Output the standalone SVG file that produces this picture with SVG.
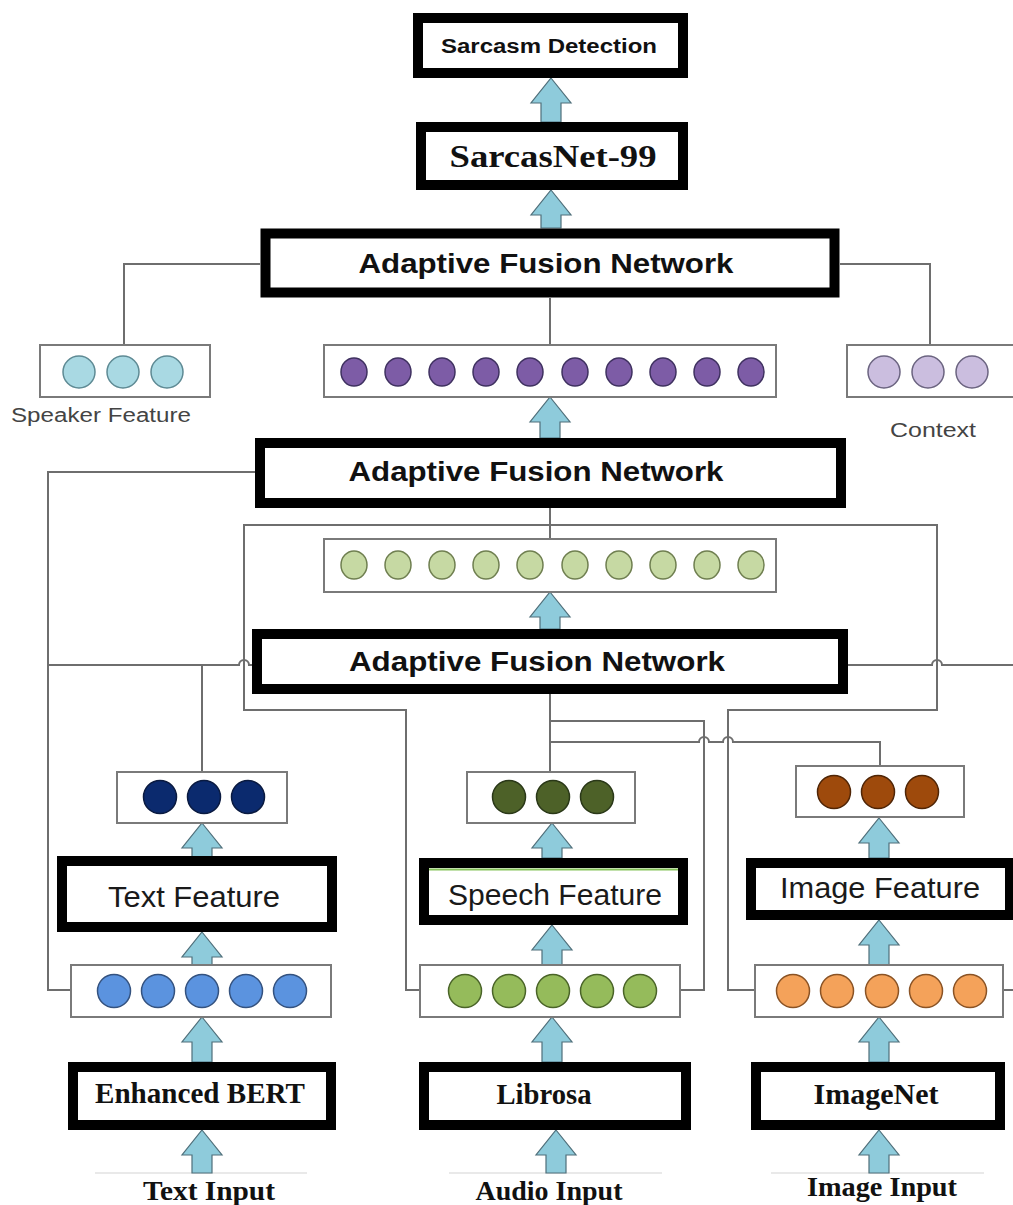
<svg xmlns="http://www.w3.org/2000/svg" width="1013" height="1205" viewBox="0 0 1013 1205">
<style>
.blk{fill:#fff;stroke:#000;stroke-width:10}
.vec{fill:#fff;stroke:#7a7a7a;stroke-width:2}
.ln{fill:none;stroke:#6e6e6e;stroke-width:2}
.arr{fill:#8ecbdb;stroke:#4f6f7a;stroke-width:1.2}
.sb{font-family:"Liberation Sans",Arial,sans-serif;font-weight:bold;fill:#111}
.sr{font-family:"Liberation Sans",Arial,sans-serif;fill:#1a1a1a}
.tb{font-family:"Liberation Serif","Times New Roman",serif;font-weight:bold;fill:#111}
.lab{font-family:"Liberation Sans",Arial,sans-serif;fill:#444}
.spk{fill:#a9d9e3;stroke:#5e8a94;stroke-width:1.5}
.pur{fill:#7d5ca6;stroke:#3f3160;stroke-width:1.5}
.ctx{fill:#cbbedf;stroke:#6b6480;stroke-width:1.5}
.lgr{fill:#c6d9a3;stroke:#6f7f50;stroke-width:1.5}
.nav{fill:#0b2a6e;stroke:#0a1a40;stroke-width:1.5}
.olv{fill:#4d6128;stroke:#2a3818;stroke-width:1.5}
.brn{fill:#9e4a0c;stroke:#4f2506;stroke-width:1.5}
.blu{fill:#5b93df;stroke:#34527f;stroke-width:1.5}
.grn{fill:#95bb5b;stroke:#4a6428;stroke-width:1.5}
.org{fill:#f4a25a;stroke:#8a5325;stroke-width:1.5}
.base{stroke:#e2e2e2;stroke-width:1.5}
</style>
<rect width="1013" height="1205" fill="#fff"/>

<g id="connectors">
  <path class="ln" d="M260,264 H124 V345"/>
  <path class="ln" d="M840,264 H930 V345"/>
  <path class="ln" d="M550,298 V345"/>
  <path class="ln" d="M255,472 H48 V990 H71"/>
  <path class="ln" d="M550,508 V539"/>
  <path class="ln" d="M420,990 H406 V710 H244 V525 H937 V710 H728 V990 H755"/>
  <path class="ln" d="M48,665 H239 A5,5 0 0 1 249,665 H252"/>
  <path class="ln" d="M202,665 V772"/>
  <path class="ln" d="M848,665 H932 A5,5 0 0 1 942,665 H1013"/>
  <path class="ln" d="M550,694 V772"/>
  <path class="ln" d="M550,721 H704 V990 H680"/>
  <path class="ln" d="M550,742 H699 A5,5 0 0 1 709,742 H723 A5,5 0 0 1 733,742 H880 V766"/>
  <path class="ln" d="M1003,990 H1013"/>
  <line class="base" x1="95" y1="1173" x2="307" y2="1173"/>
  <line class="base" x1="449" y1="1173" x2="662" y2="1173"/>
  <line class="base" x1="771" y1="1173" x2="984" y2="1173"/>
  <path class="arr" d="M551,78 L571,103 H561 V122 H541 V103 H531 Z"/>
  <path class="arr" d="M551,190 L571,215 H561 V228 H541 V215 H531 Z"/>
  <path class="arr" d="M550,397 L570,422 H560 V438 H540 V422 H530 Z"/>
  <path class="arr" d="M550,592 L570,617 H560 V629 H540 V617 H530 Z"/>
  <path class="arr" d="M202,823 L222,848 H212 V857 H192 V848 H182 Z"/>
  <path class="arr" d="M202,932 L222,957 H212 V965 H192 V957 H182 Z"/>
  <path class="arr" d="M202,1017 L222,1042 H212 V1062 H192 V1042 H182 Z"/>
  <path class="arr" d="M202,1130 L222,1155 H212 V1173 H192 V1155 H182 Z"/>
  <path class="arr" d="M552,823 L572,848 H562 V858 H542 V848 H532 Z"/>
  <path class="arr" d="M552,925 L572,950 H562 V965 H542 V950 H532 Z"/>
  <path class="arr" d="M552,1017 L572,1042 H562 V1062 H542 V1042 H532 Z"/>
  <path class="arr" d="M556,1130 L576,1155 H566 V1173 H546 V1155 H536 Z"/>
  <path class="arr" d="M879,818 L899,843 H889 V858 H869 V843 H859 Z"/>
  <path class="arr" d="M879,920 L899,945 H889 V965 H869 V945 H859 Z"/>
  <path class="arr" d="M879,1017 L899,1042 H889 V1062 H869 V1042 H859 Z"/>
  <path class="arr" d="M879,1130 L899,1155 H889 V1173 H869 V1155 H859 Z"/>
</g>

<g id="sarcasm-detection">
  <rect class="blk" x="418" y="18" width="265" height="55"/>
  <text class="sb" x="549" y="53" font-size="20" text-anchor="middle" textLength="216" lengthAdjust="spacingAndGlyphs">Sarcasm Detection</text>
</g>
<g id="sarcasnet">
  <rect class="blk" x="421" y="127" width="262" height="58"/>
  <text class="tb" x="553" y="167" font-size="31" text-anchor="middle" textLength="207" lengthAdjust="spacingAndGlyphs">SarcasNet-99</text>
</g>
<g id="afn-1">
  <rect class="blk" x="265.5" y="233.5" width="569" height="59" stroke-width="11"/>
  <text class="sb" x="546" y="273" font-size="28" text-anchor="middle" textLength="375" lengthAdjust="spacingAndGlyphs">Adaptive Fusion Network</text>
</g>
<g id="speaker-feature">
  <rect class="vec" x="40" y="345" width="170" height="52"/>
  <circle class="spk" cx="79" cy="372" r="16"/>
  <circle class="spk" cx="123" cy="372" r="16"/>
  <circle class="spk" cx="167" cy="372" r="16"/>
  <text class="lab" x="101" y="422" font-size="20" text-anchor="middle" textLength="180" lengthAdjust="spacingAndGlyphs">Speaker Feature</text>
</g>
<g id="fused-vector-top">
  <rect class="vec" x="324" y="345" width="452" height="52"/>
  <ellipse class="pur" cx="354" cy="372" rx="13" ry="14"/>
  <ellipse class="pur" cx="398" cy="372" rx="13" ry="14"/>
  <ellipse class="pur" cx="442" cy="372" rx="13" ry="14"/>
  <ellipse class="pur" cx="486" cy="372" rx="13" ry="14"/>
  <ellipse class="pur" cx="530" cy="372" rx="13" ry="14"/>
  <ellipse class="pur" cx="575" cy="372" rx="13" ry="14"/>
  <ellipse class="pur" cx="619" cy="372" rx="13" ry="14"/>
  <ellipse class="pur" cx="663" cy="372" rx="13" ry="14"/>
  <ellipse class="pur" cx="707" cy="372" rx="13" ry="14"/>
  <ellipse class="pur" cx="751" cy="372" rx="13" ry="14"/>
</g>
<g id="context">
  <rect class="vec" x="847" y="345" width="180" height="52"/>
  <circle class="ctx" cx="884" cy="372" r="16"/>
  <circle class="ctx" cx="928" cy="372" r="16"/>
  <circle class="ctx" cx="972" cy="372" r="16"/>
  <text class="lab" x="933" y="437" font-size="20" text-anchor="middle" textLength="86" lengthAdjust="spacingAndGlyphs">Context</text>
</g>
<g id="afn-2">
  <rect class="blk" x="260" y="443" width="581" height="60"/>
  <text class="sb" x="536" y="481" font-size="28" text-anchor="middle" textLength="375" lengthAdjust="spacingAndGlyphs">Adaptive Fusion Network</text>
</g>
<g id="fused-vector-mid">
  <rect class="vec" x="324" y="539" width="452" height="53"/>
  <ellipse class="lgr" cx="354" cy="565" rx="13" ry="14"/>
  <ellipse class="lgr" cx="398" cy="565" rx="13" ry="14"/>
  <ellipse class="lgr" cx="442" cy="565" rx="13" ry="14"/>
  <ellipse class="lgr" cx="486" cy="565" rx="13" ry="14"/>
  <ellipse class="lgr" cx="530" cy="565" rx="13" ry="14"/>
  <ellipse class="lgr" cx="575" cy="565" rx="13" ry="14"/>
  <ellipse class="lgr" cx="619" cy="565" rx="13" ry="14"/>
  <ellipse class="lgr" cx="663" cy="565" rx="13" ry="14"/>
  <ellipse class="lgr" cx="707" cy="565" rx="13" ry="14"/>
  <ellipse class="lgr" cx="751" cy="565" rx="13" ry="14"/>
</g>
<g id="afn-3">
  <rect class="blk" x="257" y="634" width="586" height="55"/>
  <text class="sb" x="537" y="671" font-size="28" text-anchor="middle" textLength="376" lengthAdjust="spacingAndGlyphs">Adaptive Fusion Network</text>
</g>

<g id="text-vector-3">
  <rect class="vec" x="117" y="772" width="170" height="51"/>
  <circle class="nav" cx="160" cy="797" r="16.5"/>
  <circle class="nav" cx="204" cy="797" r="16.5"/>
  <circle class="nav" cx="248" cy="797" r="16.5"/>
</g>
<g id="speech-vector-3">
  <rect class="vec" x="467" y="772" width="168" height="51"/>
  <circle class="olv" cx="509" cy="797" r="16.5"/>
  <circle class="olv" cx="553" cy="797" r="16.5"/>
  <circle class="olv" cx="597" cy="797" r="16.5"/>
</g>
<g id="image-vector-3">
  <rect class="vec" x="796" y="766" width="168" height="51"/>
  <circle class="brn" cx="834" cy="792" r="16.5"/>
  <circle class="brn" cx="878" cy="792" r="16.5"/>
  <circle class="brn" cx="922" cy="792" r="16.5"/>
</g>

<g id="text-feature">
  <rect class="blk" x="62" y="861" width="270" height="66"/>
  <text class="sr" x="194" y="907" font-size="29" text-anchor="middle" textLength="172" lengthAdjust="spacingAndGlyphs">Text Feature</text>
</g>
<g id="speech-feature">
  <rect class="blk" x="424" y="863" width="259" height="57"/>
  <line x1="429" y1="869.5" x2="678" y2="869.5" stroke="#86c45a" stroke-width="2"/>
  <text class="sr" x="555" y="905" font-size="29" text-anchor="middle" textLength="214" lengthAdjust="spacingAndGlyphs">Speech Feature</text>
</g>
<g id="image-feature">
  <rect class="blk" x="751" y="863" width="259" height="52"/>
  <text class="sr" x="880" y="898" font-size="29" text-anchor="middle" textLength="200" lengthAdjust="spacingAndGlyphs">Image Feature</text>
</g>

<g id="text-vector-5">
  <rect class="vec" x="71" y="965" width="260" height="52"/>
  <circle class="blu" cx="114" cy="991" r="16.5"/>
  <circle class="blu" cx="158" cy="991" r="16.5"/>
  <circle class="blu" cx="202" cy="991" r="16.5"/>
  <circle class="blu" cx="246" cy="991" r="16.5"/>
  <circle class="blu" cx="290" cy="991" r="16.5"/>
</g>
<g id="speech-vector-5">
  <rect class="vec" x="420" y="965" width="260" height="52"/>
  <circle class="grn" cx="465" cy="991" r="16.5"/>
  <circle class="grn" cx="509" cy="991" r="16.5"/>
  <circle class="grn" cx="553" cy="991" r="16.5"/>
  <circle class="grn" cx="597" cy="991" r="16.5"/>
  <circle class="grn" cx="640" cy="991" r="16.5"/>
</g>
<g id="image-vector-5">
  <rect class="vec" x="755" y="965" width="248" height="52"/>
  <circle class="org" cx="793" cy="991" r="16.5"/>
  <circle class="org" cx="837" cy="991" r="16.5"/>
  <circle class="org" cx="882" cy="991" r="16.5"/>
  <circle class="org" cx="926" cy="991" r="16.5"/>
  <circle class="org" cx="970" cy="991" r="16.5"/>
</g>

<g id="enhanced-bert">
  <rect class="blk" x="73" y="1067" width="258" height="58"/>
  <text class="tb" x="200" y="1103" font-size="29" text-anchor="middle" textLength="210" lengthAdjust="spacingAndGlyphs">Enhanced BERT</text>
</g>
<g id="librosa">
  <rect class="blk" x="424" y="1067" width="262" height="58"/>
  <text class="tb" x="544" y="1104" font-size="29" text-anchor="middle" textLength="95" lengthAdjust="spacingAndGlyphs">Librosa</text>
</g>
<g id="imagenet">
  <rect class="blk" x="756" y="1067" width="244" height="58"/>
  <text class="tb" x="876" y="1104" font-size="29" text-anchor="middle" textLength="125" lengthAdjust="spacingAndGlyphs">ImageNet</text>
</g>

<g id="text-input">
  <text class="tb" x="209" y="1200" font-size="28" text-anchor="middle" textLength="132" lengthAdjust="spacingAndGlyphs">Text Input</text>
</g>
<g id="audio-input">
  <text class="tb" x="549" y="1200" font-size="28" text-anchor="middle" textLength="147" lengthAdjust="spacingAndGlyphs">Audio Input</text>
</g>
<g id="image-input">
  <text class="tb" x="882" y="1196" font-size="28" text-anchor="middle" textLength="150" lengthAdjust="spacingAndGlyphs">Image Input</text>
</g>
</svg>
